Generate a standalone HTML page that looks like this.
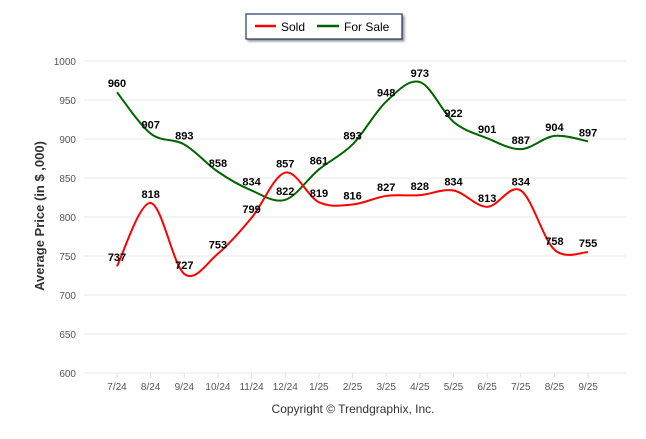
<!DOCTYPE html>
<html><head><meta charset="utf-8"><style>
body{margin:0;background:#fff;font-family:"Liberation Sans",sans-serif}
</style></head><body>
<svg id="chart" width="646" height="434" xmlns="http://www.w3.org/2000/svg" font-family="Liberation Sans, sans-serif">
<g>
<rect x="246" y="14" width="156" height="25" fill="#fff" stroke="#1f3864" stroke-width="1.2" style="filter:drop-shadow(2px 2px 1px #999)"/>
<line x1="255" y1="26" x2="276" y2="26" stroke="#f00" stroke-width="2.5"/>
<text x="281" y="31" font-size="12" fill="#000">Sold</text>
<line x1="317" y1="26" x2="339" y2="26" stroke="#006400" stroke-width="2.5"/>
<text x="344" y="31" font-size="12" fill="#000">For Sale</text>
</g>
<g id="grid"></g>
<g id="series"></g>
<text x="44" y="216" font-size="13" font-weight="bold" fill="#333" transform="rotate(-90 44 216)" text-anchor="middle">Average Price (in $ ,000)</text>
<text x="353" y="413" font-size="12" fill="#333" text-anchor="middle">Copyright © Trendgraphix, Inc.</text>
</svg>
<script>
const categories=["7/24","8/24","9/24","10/24","11/24","12/24","1/25","2/25","3/25","4/25","5/25","6/25","7/25","8/25","9/25"];
const sold=[737,818,727,753,799,857,819,816,827,828,834,813,834,758,755];
const forSale=[960,907,893,858,834,822,861,893,948,973,922,901,887,904,897];
const yTicks=[600,650,700,750,800,850,900,950,1000];
const NS="http://www.w3.org/2000/svg";
const x=i=>117+i*33.65;
const y=v=>373-(v-600)*0.78;
function mk(t,a,p){const e=document.createElementNS(NS,t);for(const k in a)e.setAttribute(k,a[k]);p.appendChild(e);return e;}
const grid=document.getElementById('grid');
yTicks.forEach(v=>{
  const l=mk('line',{x1:84,x2:626,y1:y(v),y2:y(v),stroke:'#e8e8e8'},grid);
  
  
  const t=mk('text',{x:76,y:y(v)+4,'font-size':10,fill:'#555','text-anchor':'end'},grid);t.textContent=v;
  
  
});
categories.forEach((c,i)=>{
  mk('line',{x1:x(i),x2:x(i),y1:y(600),y2:y(600)+5,stroke:'#e0e0e0'},grid);
  const t=mk('text',{x:x(i),y:390,'font-size':10,fill:'#555','text-anchor':'middle'},grid);t.textContent=c;
  
  
});
function path(vals){
  const p=vals.map((v,i)=>[x(i),y(v)]);let d='M'+p[0][0]+','+p[0][1];
  for(let i=0;i<p.length-1;i++){const p0=p[i-1]||p[i],p1=p[i],p2=p[i+1],p3=p[i+2]||p2;const k=1/6;
    d+=` C${p1[0]+(p2[0]-p0[0])*k},${p1[1]+(p2[1]-p0[1])*k} ${p2[0]-(p3[0]-p1[0])*k},${p2[1]-(p3[1]-p1[1])*k} ${p2[0]},${p2[1]}`;}
  return d;}
const sg=document.getElementById('series');
[[forSale,'#006400','for-sale'],[sold,'#f00','sold']].forEach(([vals,col,n])=>{
  const l=mk('path',{d:path(vals),fill:'none',stroke:col,'stroke-width':2},sg);
  
  
});
[[forSale,'for-sale'],[sold,'sold']].forEach(([vals,n])=>{
  vals.forEach((v,i)=>{
    const t=mk('text',{x:x(i),y:y(v)-5,'font-size':11,'font-weight':'bold',fill:'#000','text-anchor':'middle'},sg);t.textContent=v;
    
    
  });
});
</script>
</body></html>
